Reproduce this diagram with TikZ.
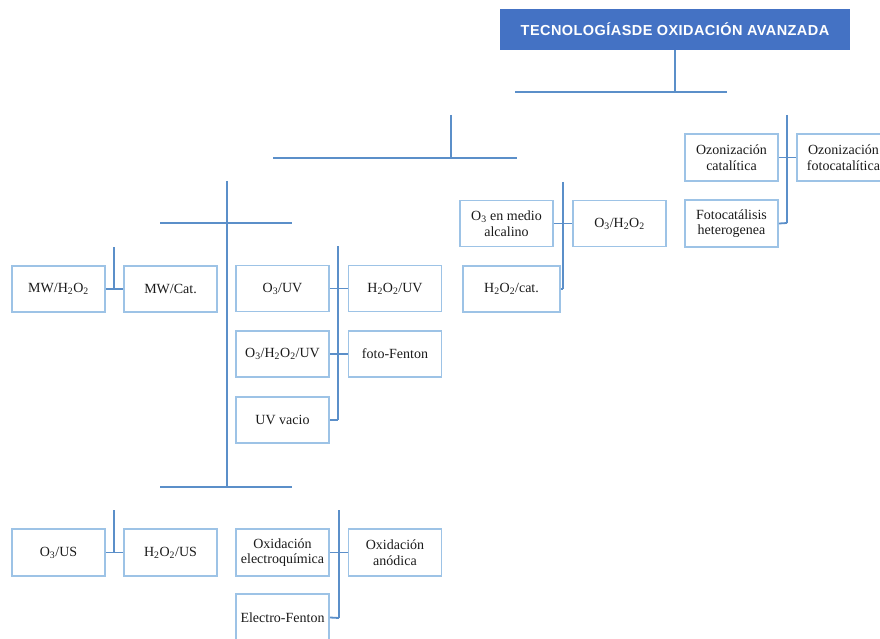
\documentclass[tikz,border=0pt]{standalone}
\usepackage{fontspec}
\setmainfont{Liberation Serif}
\newfontfamily\titlefont[LetterSpace=3]{Liberation Sans}
\usepackage{xcolor}
\usetikzlibrary{positioning}
\definecolor{titlebg}{HTML}{4472C4}
\definecolor{boxline}{HTML}{9DC3E6}
\definecolor{treeline}{HTML}{5B8FC9}
\definecolor{boxtext}{HTML}{1A1A1A}
\newcommand{\lo}[1]{\textsubscript{#1}}

\begin{document}
\begin{tikzpicture}[x=1pt,y=-1pt,
    tech/.style={draw=boxline,line width=1.8pt,minimum width=93pt,minimum height=46pt,
      inner sep=1pt,align=center,text=boxtext,font=\fontsize{14}{15.5}\selectfont},
    branch/.style={draw=treeline,line width=1.8pt}]
        \useasboundingbox (0,0) rectangle (880,639);
        % title
        \node [fill=titlebg,minimum width=350pt,minimum height=41pt,text=white,
          font=\titlefont\bfseries\fontsize{14.5}{16}\selectfont] (title) at (675,29.5)
          {TECNOLOGÍASDE OXIDACIÓN AVANZADA};
        \coordinate (tdown) at (675,92);
        \draw [branch] (title.south) -- (tdown);
        \draw [branch] (515,92) -- (727,92);
        \draw [branch] (451,115) -- (451,158);
        \draw [branch] (273,158) -- (517,158);
        \draw [branch] (227,181) -- (227,487);
        \draw [branch] (160,223) -- (292,223);
        \draw [branch] (160,487) -- (292,487);
        % microondas
        \node [tech] (mwhtwo) at (58.5,289) {MW/H\lo{2}O\lo{2}};
        \node [tech] (mwcat) at (170.5,289) {MW/Cat.};
        \draw [branch] (114,247) -- (114,289);
        \draw [branch] (mwhtwo.east) -- (mwcat.west);
        % UV
        \node [tech] (othreeuv) at (282.5,288.5) {O\lo{3}/UV};
        \node [tech] (htwouv) at (395,288.5) {H\lo{2}O\lo{2}/UV};
        \node [tech] (othreehtwouv) at (282.5,354) {O\lo{3}/H\lo{2}O\lo{2}/UV};
        \node [tech] (fotofenton) at (395,354) {foto-Fenton};
        \node [tech] (uvvacio) at (282.5,420) {UV vacio};
        \coordinate (uvend) at (338,420);
        \draw [branch] (338,246) -- (uvend);
        \draw [branch] (othreeuv.east) -- (htwouv.west);
        \draw [branch] (othreehtwouv.east) -- (fotofenton.west);
        \draw [branch] (uvvacio.east) -- (uvend);
        % ozono / peroxido
        \node [tech] (othreealc) at (506.5,223.5) {O\lo{3} en medio\\alcalino};
        \node [tech] (othreehtwo) at (619.5,223.5) {O\lo{3}/H\lo{2}O\lo{2}};
        \node [tech,minimum width=97pt] (htwocat) at (511.5,289) {H\lo{2}O\lo{2}/cat.};
        \coordinate (alcend) at (563,289);
        \draw [branch] (563,182) -- (alcend);
        \draw [branch] (othreealc.east) -- (othreehtwo.west);
        \draw [branch] (htwocat.east) -- (alcend);
        % catalisis
        \node [tech,minimum height=47pt] (ozcat) at (731.5,157.5) {Ozonización\\catalítica};
        \node [tech,minimum height=47pt] (ozfoto) at (843.5,157.5) {Ozonización\\fotocatalítica};
        \node [tech,minimum height=47pt] (fotohet) at (731.5,223.5) {Fotocatálisis\\heterogenea};
        \coordinate (catend) at (787,223);
        \draw [branch] (787,115) -- (catend);
        \draw [branch] (ozcat.east) -- (ozfoto.west);
        \draw [branch] (fotohet.east) -- (catend);
        % ultrasonido
        \node [tech,minimum height=47pt] (othreeus) at (58.5,552.5) {O\lo{3}/US};
        \node [tech,minimum height=47pt] (htwous) at (170.5,552.5) {H\lo{2}O\lo{2}/US};
        \draw [branch] (114,510) -- (114,552);
        \draw [branch] (othreeus.east) -- (htwous.west);
        % electroquimica
        \node [tech,minimum height=47pt] (oxelec) at (282.5,552.5) {Oxidación\\electroquímica};
        \node [tech,minimum height=47pt] (oxanod) at (395,552.5) {Oxidación\\anódica};
        \node [tech,minimum height=47pt] (elfenton) at (282.5,617.5) {Electro-Fenton};
        \coordinate (elend) at (339,618);
        \draw [branch] (339,510) -- (elend);
        \draw [branch] (oxelec.east) -- (oxanod.west);
        \draw [branch] (elfenton.east) -- (elend);
\end{tikzpicture}
\end{document}
